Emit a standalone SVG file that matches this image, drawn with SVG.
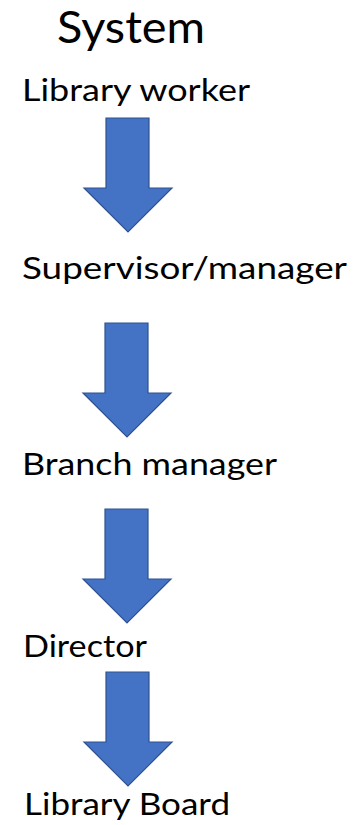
<svg xmlns="http://www.w3.org/2000/svg" width="353" height="825" viewBox="0 0 353 825">
<style>
text{font-family:Lato,"Noto Sans","Liberation Sans",sans-serif;fill:#000}
.t{font-size:31px}
.a{fill:#4472C4;stroke:#2F528F;stroke-width:1.2;stroke-linejoin:miter}
</style>
<defs>
<path id="arr" d="M0,0 H43 V70 H66 L22,114 L-22,70 H0 Z"/>
</defs>
<rect width="353" height="825" fill="#fff"/>
<g id="title"><text x="57" y="43" style="font-size:45px" textLength="148" lengthAdjust="spacingAndGlyphs">System</text></g>
<g id="n1"><text class="t" x="22" y="101" textLength="228" lengthAdjust="spacingAndGlyphs">Library worker</text></g>
<g id="n2"><text class="t" x="22" y="279" textLength="325" lengthAdjust="spacingAndGlyphs">Supervisor/manager</text></g>
<g id="n3"><text class="t" x="22" y="475" textLength="255" lengthAdjust="spacingAndGlyphs">Branch manager</text></g>
<g id="n4"><text class="t" x="23" y="657" textLength="124" lengthAdjust="spacingAndGlyphs">Director</text></g>
<g id="n5"><text class="t" x="24" y="815" textLength="206" lengthAdjust="spacingAndGlyphs">Library Board</text></g>
<g id="connectors">
<use href="#arr" class="a" x="106" y="118"/>
<use href="#arr" class="a" x="105" y="323"/>
<use href="#arr" class="a" x="105" y="509"/>
<use href="#arr" class="a" x="106" y="672"/>
</g>
</svg>
